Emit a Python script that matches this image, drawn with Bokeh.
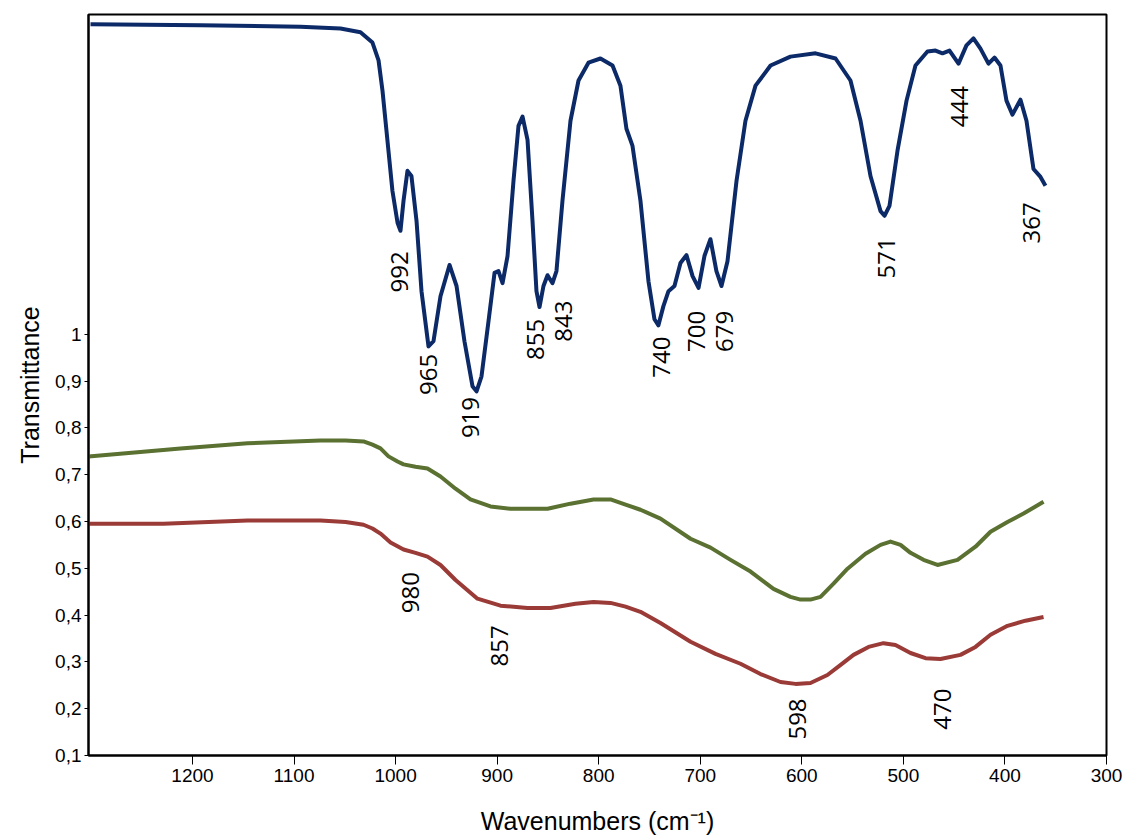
import math
from bokeh.plotting import figure
from bokeh.models import Range1d, FixedTicker, ColumnDataSource
from bokeh.core.properties import value
from bokeh.embed import file_html
from bokeh.resources import INLINE

# ---- data ----
blue_wn = [1300.4, 1192.1, 1093.7, 1054.3, 1034.6, 1022.8, 1016.8, 1012.9, 1009.0, 1003.1,
           998.1, 995.2, 992.2, 988.3, 984.4, 979.4, 974.5, 967.6, 962.7, 955.8,
           946.9, 940.0, 932.2, 924.3, 920.3, 915.4, 908.5, 902.6, 898.7, 894.7,
           889.8, 883.9, 879.0, 875.0, 870.1, 865.2, 861.3, 858.3, 854.4, 850.4,
           845.5, 841.6, 835.7, 827.8, 819.9, 810.1, 798.3, 786.4, 778.6, 772.7,
           766.8, 758.9, 751.0, 745.1, 741.2, 736.3, 731.3, 725.4, 719.5, 713.6,
           707.6, 701.7, 695.9, 690.0, 684.1, 679.1, 673.2, 664.3, 655.5, 645.6,
           630.8, 611.2, 586.5, 566.8, 552.1, 542.2, 532.4, 522.5, 518.6, 513.7,
           505.8, 496.9, 488.1, 476.3, 468.4, 461.5, 454.6, 445.7, 437.9, 431.0,
           424.1, 416.2, 410.3, 404.4, 398.5, 392.6, 384.7, 378.8, 371.9, 365.0, 360.1]
blue_t = [1.662, 1.660, 1.657, 1.653, 1.645, 1.623, 1.585, 1.520, 1.435, 1.306,
          1.238, 1.221, 1.285, 1.349, 1.338, 1.242, 1.092, 0.974, 0.985, 1.081,
          1.148, 1.103, 0.985, 0.889, 0.878, 0.910, 1.028, 1.131, 1.135, 1.109,
          1.167, 1.328, 1.445, 1.465, 1.415, 1.242, 1.092, 1.058, 1.103, 1.126,
          1.109, 1.135, 1.285, 1.456, 1.542, 1.580, 1.589, 1.574, 1.531, 1.439,
          1.403, 1.285, 1.113, 1.032, 1.019, 1.060, 1.092, 1.103, 1.152, 1.169,
          1.124, 1.099, 1.167, 1.203, 1.135, 1.103, 1.156, 1.328, 1.456, 1.531,
          1.574, 1.593, 1.600, 1.589, 1.542, 1.456, 1.338, 1.263, 1.253, 1.274,
          1.392, 1.499, 1.574, 1.604, 1.606, 1.600, 1.606, 1.578, 1.617, 1.632,
          1.610, 1.578, 1.591, 1.574, 1.499, 1.469, 1.501, 1.456, 1.353, 1.336, 1.317]

green_wn = [1302.4, 1211.8, 1145.8, 1074.0, 1049.3, 1031.6, 1022.8, 1014.9, 1007.0, 998.1,
            992.2, 980.4, 968.6, 955.8, 941.0, 926.3, 906.6, 886.9, 867.2, 850.4,
            827.8, 805.1, 788.4, 773.6, 758.9, 739.2, 709.6, 689.9, 670.2, 650.5,
            627.9, 611.2, 601.3, 591.5, 581.6, 568.8, 555.0, 537.3, 522.5, 512.7,
            502.8, 493.0, 480.2, 466.4, 446.7, 429.0, 414.2, 397.5, 381.7, 369.9, 362.0]
green_t = [0.739, 0.756, 0.767, 0.773, 0.773, 0.771, 0.764, 0.756, 0.739, 0.728,
           0.722, 0.717, 0.713, 0.696, 0.670, 0.647, 0.632, 0.627, 0.627, 0.627,
           0.638, 0.647, 0.647, 0.636, 0.625, 0.606, 0.563, 0.544, 0.518, 0.493,
           0.456, 0.439, 0.433, 0.433, 0.439, 0.467, 0.499, 0.531, 0.550, 0.557,
           0.550, 0.533, 0.518, 0.507, 0.518, 0.546, 0.578, 0.599, 0.617, 0.632, 0.642]

red_wn = [1302.4, 1228.6, 1145.8, 1074.0, 1049.3, 1031.6, 1022.8, 1014.9, 1005.0, 992.2,
          980.4, 968.6, 955.8, 941.0, 919.4, 896.7, 870.1, 847.5, 822.9, 805.1,
          788.4, 773.6, 758.9, 739.2, 709.6, 685.0, 660.4, 640.7, 621.0, 606.2,
          591.5, 574.8, 562.1, 549.1, 534.3, 519.6, 507.8, 493.0, 478.2, 463.5,
          443.8, 429.0, 414.2, 397.5, 379.8, 362.0]
red_t = [0.595, 0.595, 0.602, 0.602, 0.599, 0.593, 0.585, 0.574, 0.555, 0.540,
         0.533, 0.525, 0.507, 0.475, 0.435, 0.420, 0.415, 0.415, 0.424, 0.428,
         0.426, 0.418, 0.407, 0.383, 0.343, 0.317, 0.296, 0.274, 0.257, 0.253,
         0.255, 0.272, 0.293, 0.315, 0.332, 0.340, 0.336, 0.319, 0.308, 0.306,
         0.315, 0.332, 0.358, 0.377, 0.388, 0.396]

peak_labels = ["992", "965", "919", "855", "843", "740", "700", "679", "571", "444", "367",
               "980", "857", "598", "470"]
peak_label_x = [996.2, 967.6, 926.3, 862.3, 834.7, 738.2, 703.7, 676.1, 516.6, 444.7, 373.9,
                985.3, 897.7, 604.3, 461.5]
peak_label_y = [1.133, 0.914, 0.822, 0.989, 1.028, 0.951, 1.006, 1.006, 1.163, 1.486, 1.238,
                0.448, 0.334, 0.178, 0.199]

x_ticks = [1200, 1100, 1000, 900, 800, 700, 600, 500, 400, 300]
y_ticks = [0.1, 0.2, 0.3, 0.4, 0.5, 0.6, 0.7, 0.8, 0.9, 1.0]
y_tick_labels = ["0,1", "0,2", "0,3", "0,4", "0,5", "0,6", "0,7", "0,8", "0,9", "1"]

# ---- figure ----
p = figure(width=1140, height=840, output_backend="svg", toolbar_location=None,
           x_range=Range1d(1302.4, 300), y_range=Range1d(0.1, 1.683),
           min_border_left=88, min_border_right=34, min_border_top=14, min_border_bottom=85)
p.grid.visible = False
p.background_fill_color = "white"
p.border_fill_color = "white"
p.outline_line_color = "black"
p.outline_line_width = 2

p.line(blue_wn, blue_t, line_color="#0c2a68", line_width=4, line_join="round")
p.line(green_wn, green_t, line_color="#5a7132", line_width=4, line_join="round")
p.line(red_wn, red_t, line_color="#9a3b37", line_width=4, line_join="round")

src = ColumnDataSource(dict(x=peak_label_x, y=peak_label_y, t=peak_labels))
p.text(x="x", y="y", text="t", source=src, angle=math.pi / 2,
       text_align="center", text_baseline="middle",
       text_font=value("Open Sans"), text_font_size=value("24px"), text_color="black")

# axes
xa = p.xaxis[0]
xa.ticker = FixedTicker(ticks=x_ticks)
xa.minor_tick_line_color = None
xa.major_tick_out = 9
xa.major_tick_in = 0
xa.axis_line_width = 2
xa.major_tick_line_width = 1
xa.major_label_text_font = "Liberation Sans"
xa.major_label_text_font_size = "19px"
xa.major_label_text_color = "black"
xa.major_label_standoff = 4
xa.axis_label = "Wavenumbers (cm⁻¹)"
xa.axis_label_text_font = "Liberation Sans"
xa.axis_label_text_font_style = "normal"
xa.axis_label_text_font_size = "25px"
xa.axis_label_text_color = "black"
xa.axis_label_standoff = 22

ya = p.yaxis[0]
ya.ticker = FixedTicker(ticks=y_ticks)
ya.major_label_overrides = {t: l for t, l in zip(y_ticks, y_tick_labels)}
ya.minor_tick_line_color = None
ya.major_tick_out = 4
ya.major_tick_in = 0
ya.axis_line_width = 2
ya.major_label_text_font = "Liberation Sans"
ya.major_label_text_font_size = "19px"
ya.major_label_text_color = "black"
ya.major_label_standoff = 3
ya.axis_label = "Transmittance"
ya.axis_label_text_font = "Liberation Sans"
ya.axis_label_text_font_style = "normal"
ya.axis_label_text_font_size = "25px"
ya.axis_label_text_color = "black"
ya.axis_label_standoff = 8

open("out.html", "w").write(file_html(p, INLINE))
